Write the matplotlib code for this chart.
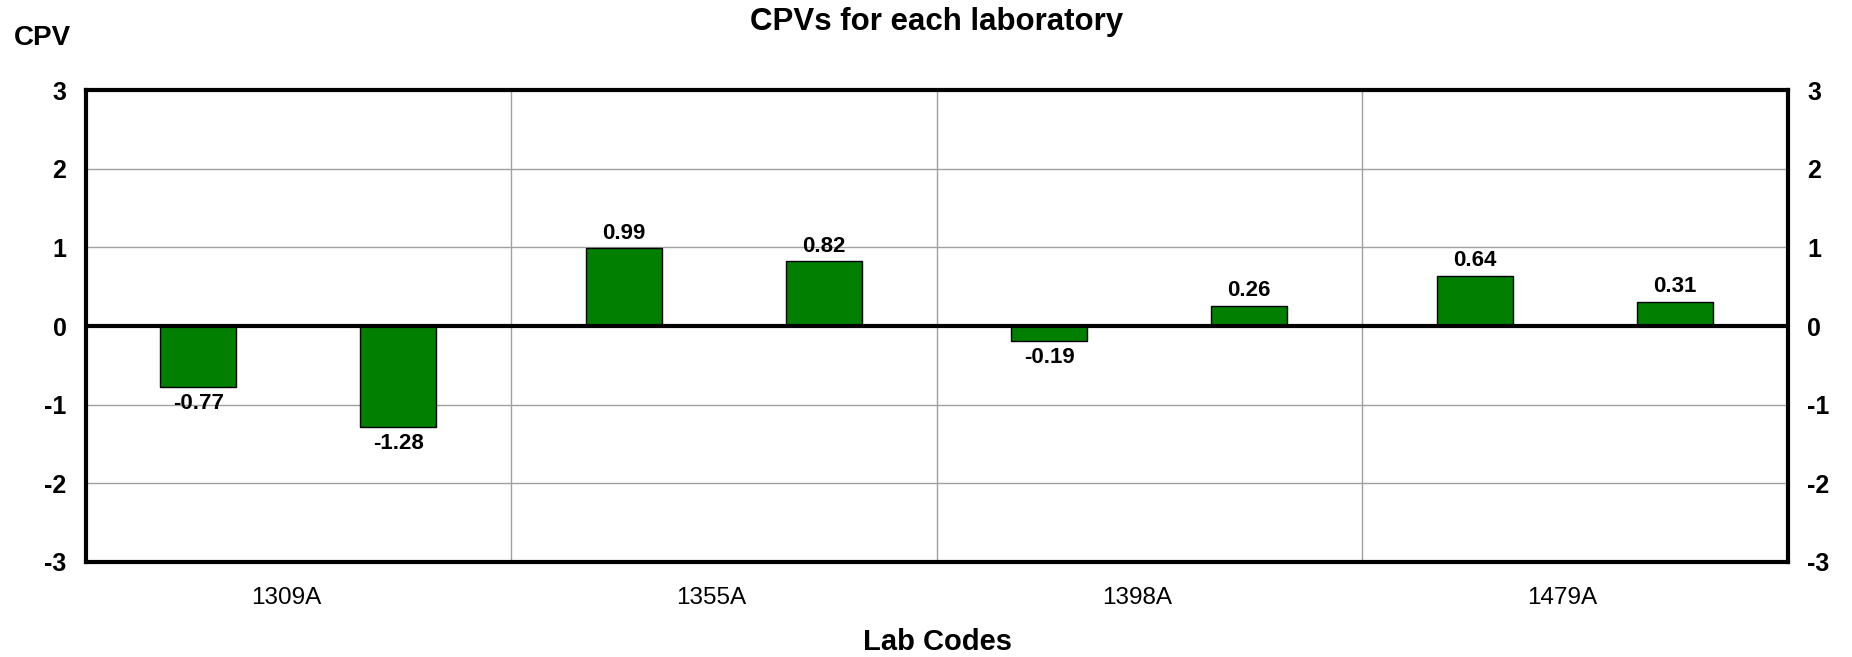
#!/usr/bin/env python3
"""CPVs for each laboratory - grouped bar chart (two results per lab)."""

import matplotlib
matplotlib.use("Agg")  # headless
import matplotlib.pyplot as plt  # noqa: E402
import numpy as np  # noqa: E402

plt.rcParams["font.family"] = ["Liberation Sans", "DejaVu Sans"]

# ── Data ──────────────────────────────────────────────────────────────────
lab_codes = ["1309A", "1355A", "1398A", "1479A"]
cpv_first = [-0.77, 0.99, -0.19, 0.64]
cpv_second = [-1.28, 0.82, 0.26, 0.31]
y_ticks = [-3, -2, -1, 0, 1, 2, 3]

BAR_GREEN = "#007f00"
GRID_GREY = "#a0a0a0"

fig = plt.figure(figsize=(18.52, 6.57), dpi=100)
ax = fig.add_axes([0.0464, 0.1446, 0.9190, 0.7184])

groups = np.arange(len(lab_codes))
bar_w = 0.179
for offset, vals in ((0.264, cpv_first), (0.734, cpv_second)):
    bars = ax.bar(groups + offset, vals, width=bar_w, color=BAR_GREEN,
                  edgecolor="black", linewidth=1.0, zorder=2)
    for rect, v in zip(bars, vals):
        x = rect.get_x() + rect.get_width() / 2
        if v >= 0:
            ax.annotate(f"{v:.2f}", (x, v), xytext=(0, 3),
                        textcoords="offset points", ha="center", va="bottom",
                        fontsize=16, fontweight="bold")
        else:
            ax.annotate(f"{v:.2f}", (x, v), xytext=(0, -4.5),
                        textcoords="offset points", ha="center", va="top",
                        fontsize=16, fontweight="bold")

ax.axhline(0, color="black", linewidth=3, zorder=3)

ax.set_xlim(0, len(lab_codes))
ax.set_ylim(-3, 3)
ax.set_yticks(y_ticks)
ax.set_yticklabels([str(t) for t in y_ticks], fontsize=18, fontweight="bold")
# category labels sit a little left of the group centre in the original
ax.set_xticks(groups + 0.47)
ax.set_xticklabels(lab_codes, fontsize=17.5)
ax.set_xticks(groups[1:], minor=True)

ax.tick_params(axis="both", which="both", length=0)
ax.tick_params(axis="y", labelright=True, right=False, pad=14)
ax.tick_params(axis="x", pad=18)

ax.grid(axis="y", which="major", color=GRID_GREY, linewidth=1, zorder=0)
ax.grid(axis="x", which="minor", color=GRID_GREY, linewidth=1, zorder=0)
ax.grid(axis="x", which="major", visible=False)
ax.set_axisbelow(True)

for sp in ax.spines.values():
    sp.set_linewidth(3)
    sp.set_color("black")

ax.set_title("CPVs for each laboratory", fontsize=22.5, fontweight="bold",
             pad=43)
fig.text(0.506, 1 - 650 / 657, "Lab Codes", fontsize=21, fontweight="bold",
         ha="center", va="baseline")
fig.text(0.0076, 1 - 45 / 657, "CPV", fontsize=20, fontweight="bold",
         ha="left", va="baseline")

fig.savefig("out.png", dpi=100)
plt.close(fig)
